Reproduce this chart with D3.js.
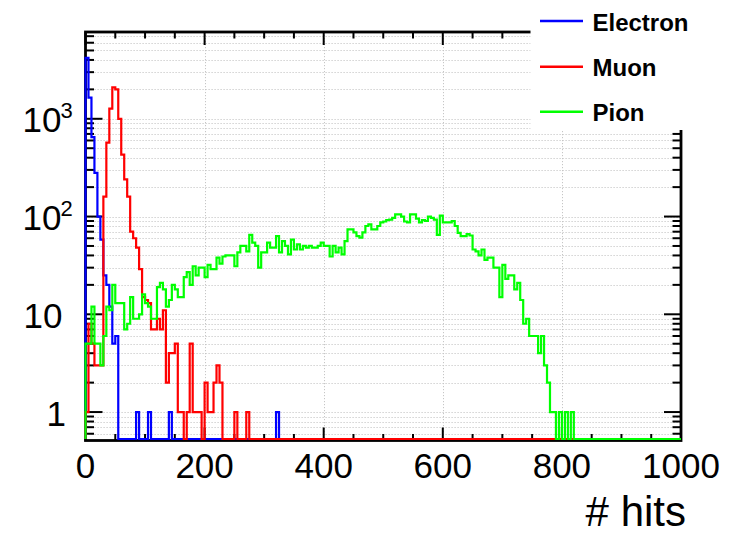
<!DOCTYPE html>
<html>
<head>
<meta charset="utf-8">
<script src="https://cdn.jsdelivr.net/npm/d3@7"></script>
<style>
  html, body { margin: 0; padding: 0; background: #fff; }
  svg { display: block; }
</style>
</head>
<body>
<svg id="chart" width="729" height="535"></svg>
<script>
// Hit-count histograms, 200 bins of 5 hits over 0..1000
const binWidth = 5;
const xRange = [0, 1000];

const electron = [
  4200, 1650, 650, 280, 100, 58, 25, 20, 12, 5,
  6, 0, 0, 0, 0, 0, 0, 1, 0, 0,
  0, 1, 0, 0, 0, 0, 0, 0, 1, 0,
  0, 0, 0, 0, 0, 0, 0, 0, 0, 0,
  0, 0, 0, 0, 0, 0, 0, 0, 0, 0,
  0, 0, 0, 0, 0, 0, 0, 0, 0, 0,
  0, 0, 0, 0, 1, 0, 0, 0, 0, 0,
  0, 0, 0, 0, 0, 0, 0, 0, 0, 0,
  0, 0, 0, 0, 0, 0, 0, 0, 0, 0,
  0, 0, 0, 0, 0, 0, 0, 0, 0, 0,
  0, 0, 0, 0, 0, 0, 0, 0, 0, 0,
  0, 0, 0, 0, 0, 0, 0, 0, 0, 0,
  0, 0, 0, 0, 0, 0, 0, 0, 0, 0,
  0, 0, 0, 0, 0, 0, 0, 0, 0, 0,
  0, 0, 0, 0, 0, 0, 0, 0, 0, 0,
  0, 0, 0, 0, 0, 0, 0, 0, 0, 0,
  0, 0, 0, 0, 0, 0, 0, 0, 0, 0,
  0, 0, 0, 0, 0, 0, 0, 0, 0, 0,
  0, 0, 0, 0, 0, 0, 0, 0, 0, 0,
  0, 0, 0, 0, 0, 0, 0, 0, 0, 0
];

const muon = [
  1, 8, 5, 3, 3, 3, 160, 570, 1270, 2100,
  2000, 1000, 430, 240, 160, 70, 60, 48, 29, 15,
  14, 13, 7, 7, 9, 7, 11, 2, 4, 4,
  5, 1, 1, 0, 1, 5, 1, 1, 1, 0,
  2, 1, 1, 2, 3, 2, 0, 0, 0, 0,
  1, 0, 0, 0, 1, 0, 0, 0, 0, 0,
  0, 0, 0, 0, 0, 0, 0, 0, 0, 0,
  0, 0, 0, 0, 0, 0, 0, 0, 0, 0,
  0, 0, 0, 0, 0, 0, 0, 0, 0, 0,
  0, 0, 0, 0, 0, 0, 0, 0, 0, 0,
  0, 0, 0, 0, 0, 0, 0, 0, 0, 0,
  0, 0, 0, 0, 0, 0, 0, 0, 0, 0,
  0, 0, 0, 0, 0, 0, 0, 0, 0, 0,
  0, 0, 0, 0, 0, 0, 0, 0, 0, 0,
  0, 0, 0, 0, 0, 0, 0, 0, 0, 0,
  0, 0, 0, 0, 0, 0, 0, 0, 0, 0,
  0, 0, 0, 0, 0, 0, 0, 0, 0, 0,
  0, 0, 0, 0, 0, 0, 0, 0, 0, 0,
  0, 0, 0, 0, 0, 0, 0, 0, 0, 0,
  0, 0, 0, 0, 0, 0, 0, 0, 0, 0
];

const pion = [
  5, 5, 12, 5, 5, 3, 6, 12, 11, 20,
  13, 13, 13, 7, 8, 15, 9, 9, 10, 16,
  13, 12, 9, 9, 19, 21, 18, 12, 14, 20,
  18, 15, 15, 24, 27, 20, 31, 25, 30, 30,
  24, 32, 29, 29, 38, 33, 39, 40, 40, 40,
  31, 43, 50, 50, 44, 65, 54, 50, 30, 43,
  43, 54, 48, 48, 63, 43, 56, 50, 41, 58,
  46, 52, 46, 50, 48, 50, 48, 48, 50, 54,
  50, 50, 39, 50, 43, 48, 41, 56, 74, 74,
  69, 63, 61, 69, 80, 83, 74, 74, 80, 87,
  89, 92, 93, 97, 105, 105, 100, 89, 87, 105,
  105, 95, 87, 92, 90, 100, 97, 93, 65, 102,
  87, 87, 87, 90, 80, 68, 63, 63, 66, 64,
  46, 44, 40, 46, 36, 38, 38, 30, 30, 15,
  32, 23, 25, 25, 18, 21, 14, 8, 9, 6,
  6, 6, 4, 6, 3, 2, 1, 1, 0, 1,
  0, 1, 0, 1, 0, 0, 0, 0, 0, 0,
  0, 0, 0, 0, 0, 0, 0, 0, 0, 0,
  0, 0, 0, 0, 0, 0, 0, 0, 0, 0,
  0, 0, 0, 0, 0, 0, 0, 0, 0, 0
];

const seriesNames = ["Electron", "Muon", "Pion"];
const seriesColors = ["#0000ff", "#ff0000", "#00ff00"];
const xMajorTicks = [0, 200, 400, 600, 800, 1000];
const xMinorStep = 50;
const yDecades = [1, 10, 100, 1000];
const yLimits = [0.53, 7724];
const xTitle = "# hits";

// ---- layout ----
const plot = { left: 85.5, right: 681, top: 32, bottom: 439 };
const frameBottom = 440.5;
const legendBox = { x: 530.5, y: 0, w: 198.5, h: 130 };

const svg = d3.select("#chart");
const font = "'Liberation Sans', Arial, Helvetica, sans-serif";

const x = d3.scaleLinear().domain(xRange).range([plot.left, plot.right]);
const y = d3.scaleLog().domain(yLimits).range([plot.bottom, plot.top]);
const yv = v => (v > 0 ? y(Math.max(v, yLimits[0])) : y(yLimits[0]));

// all log ticks (1..9 x decade) inside the visible range
const yTicks = [];
[0.1, 1, 10, 100, 1000].forEach(d => {
  for (let k = 1; k <= 9; k++) {
    const v = k * d;
    if (v >= yLimits[0] && v <= yLimits[1]) yTicks.push({ v, major: k === 1 });
  }
});
const xMinorTicks = d3.range(xRange[0], xRange[1] + 1, xMinorStep)
  .filter(v => !xMajorTicks.includes(v));

// ---- dotted grid ----
const grid = svg.append("g")
  .attr("stroke", "#c6c6c6").attr("stroke-width", 1)
  .attr("stroke-dasharray", "1.2,1.8").attr("fill", "none");
grid.selectAll("line.h").data(yTicks).join("line")
  .attr("x1", plot.left).attr("x2", plot.right)
  .attr("y1", d => Math.round(y(d.v)) + 0.5).attr("y2", d => Math.round(y(d.v)) + 0.5);
grid.selectAll("line.v").data(xMajorTicks.slice(1, -1)).join("line")
  .attr("x1", d => Math.round(x(d)) + 0.5).attr("x2", d => Math.round(x(d)) + 0.5)
  .attr("y1", plot.top).attr("y2", plot.bottom);

// ---- frame and ticks ----
const axes = svg.append("g").attr("stroke", "#000").attr("fill", "none");
axes.append("rect")
  .attr("x", plot.left).attr("y", plot.top)
  .attr("width", plot.right - plot.left).attr("height", frameBottom - plot.top)
  .attr("stroke-width", 2.8);

const yMajLen = 17, yMinLen = 8.5, xMajLen = 13, xMinLen = 6.5;
const tickG = axes.append("g").attr("stroke-width", 2);
yTicks.forEach(t => {
  const yy = y(t.v), L = t.major ? yMajLen : yMinLen;
  tickG.append("line").attr("x1", plot.left).attr("x2", plot.left + L).attr("y1", yy).attr("y2", yy);
  tickG.append("line").attr("x1", plot.right).attr("x2", plot.right - L).attr("y1", yy).attr("y2", yy);
});
const xTickAll = xMajorTicks.map(v => ({ v, major: true }))
  .concat(xMinorTicks.map(v => ({ v, major: false })));
xTickAll.forEach(t => {
  const xx = x(t.v), L = t.major ? xMajLen : xMinLen;
  tickG.append("line").attr("x1", xx).attr("x2", xx).attr("y1", frameBottom).attr("y2", frameBottom - L);
  tickG.append("line").attr("x1", xx).attr("x2", xx).attr("y1", plot.top).attr("y2", plot.top + L);
});

// ---- histograms (step outlines) ----
function stepPath(vals) {
  const p = d3.path();
  p.moveTo(x(xRange[0]), yv(0));
  vals.forEach((v, i) => {
    p.lineTo(x(i * binWidth), yv(v));
    p.lineTo(x((i + 1) * binWidth), yv(v));
  });
  p.lineTo(x(xRange[1]), yv(0));
  return p.toString();
}
const seriesData = [electron, muon, pion];
svg.append("g").selectAll("path").data(seriesData).join("path")
  .attr("d", d => stepPath(d))
  .attr("fill", "none")
  .attr("stroke", (d, i) => seriesColors[i])
  .attr("stroke-width", 2.2)
  .attr("stroke-linejoin", "miter");

// ---- axis labels ----
const labels = svg.append("g").attr("font-family", font).attr("fill", "#000");
labels.selectAll("text.xl").data(xMajorTicks).join("text")
  .attr("x", d => x(d)).attr("y", 478)
  .attr("text-anchor", "middle").attr("font-size", 35)
  .text(d => d);

yDecades.forEach(d => {
  const yy = y(d) + 13.5;
  if (d === 1) {
    labels.append("text").attr("x", 66).attr("y", yy).attr("text-anchor", "end")
      .attr("font-size", 35).text("1");
  } else if (d === 10) {
    labels.append("text").attr("x", 62.5).attr("y", yy).attr("text-anchor", "end")
      .attr("font-size", 35).text("10");
  } else {
    const exp = Math.round(Math.log10(d));
    labels.append("text").attr("x", 61.5).attr("y", yy).attr("text-anchor", "end")
      .attr("font-size", 35).text("10");
    labels.append("text").attr("x", 60.5).attr("y", y(d) - 0.5)
      .attr("font-size", 22).text(exp);
  }
});

labels.append("text").attr("x", 686).attr("y", 526)
  .attr("text-anchor", "end").attr("font-size", 42).text(xTitle);

// ---- legend ----
const leg = svg.append("g");
leg.append("rect").attr("x", legendBox.x).attr("y", legendBox.y)
  .attr("width", legendBox.w).attr("height", legendBox.h).attr("fill", "#fff");
const legRows = [21, 66.7, 111.7];
seriesNames.forEach((name, i) => {
  leg.append("line").attr("x1", 540).attr("x2", 583)
    .attr("y1", legRows[i]).attr("y2", legRows[i])
    .attr("stroke", seriesColors[i]).attr("stroke-width", 2.4);
  leg.append("text").attr("x", 592.5).attr("y", legRows[i] + 9.5)
    .attr("font-family", font).attr("font-weight", "bold").attr("font-size", 24)
    .attr("fill", "#000").text(name);
});
</script>
</body>
</html>
